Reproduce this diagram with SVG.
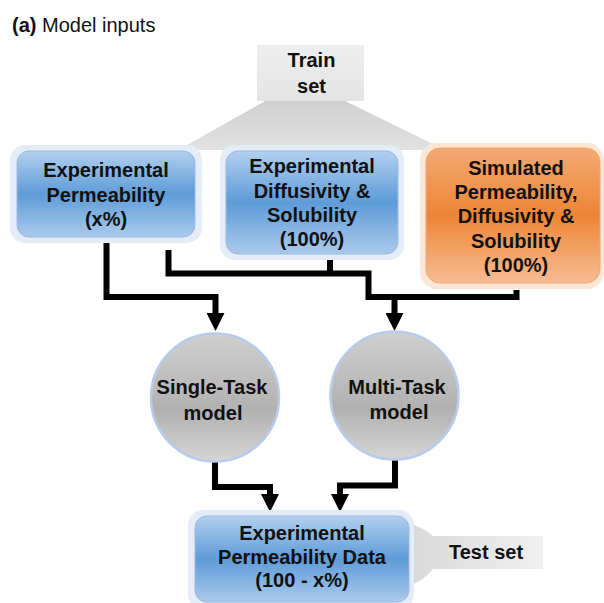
<svg xmlns="http://www.w3.org/2000/svg" width="604" height="603" viewBox="0 0 604 603">
<style>
.t{font-family:"Liberation Sans",Arial,Helvetica,sans-serif;font-size:20px;fill:#111;text-anchor:middle;font-weight:bold}
.title{font-family:"Liberation Sans",Arial,Helvetica,sans-serif;font-size:20px;fill:#111}
.glowB{fill:#e4ecf7}
.glowO{fill:#fce6d6}
.boxB{fill:url(#gB);stroke:#9db8df;stroke-width:1}
.boxO{fill:url(#gO);stroke:#efa878;stroke-width:1}
.circ{fill:url(#gC);stroke:#b9cbea;stroke-width:2.5}
.conn{fill:none;stroke:#000;stroke-width:6;stroke-linejoin:miter}
</style>
<defs>
<linearGradient id="gB" x1="0" y1="0" x2="0" y2="1">
<stop offset="0" stop-color="#b2d0ef"/>
<stop offset="0.5" stop-color="#5e9bd7"/>
<stop offset="1" stop-color="#aacaec"/>
</linearGradient>
<linearGradient id="gO" x1="0" y1="0" x2="0" y2="1">
<stop offset="0" stop-color="#f3aa73"/>
<stop offset="0.5" stop-color="#ee8536"/>
<stop offset="1" stop-color="#f6bd92"/>
</linearGradient>
<linearGradient id="gC" x1="0" y1="0" x2="0" y2="1">
<stop offset="0" stop-color="#d0d0d0"/>
<stop offset="0.6" stop-color="#b1b1b1"/>
<stop offset="1" stop-color="#d6d6d6"/>
</linearGradient>
<linearGradient id="gG" x1="0" y1="0" x2="0" y2="1">
<stop offset="0" stop-color="#eeeeee"/>
<stop offset="1" stop-color="#e4e4e4"/>
</linearGradient>
<linearGradient id="gT" x1="0" y1="0" x2="0" y2="1">
<stop offset="0" stop-color="#cfcfcf"/>
<stop offset="1" stop-color="#e2e2e2"/>
</linearGradient>
<linearGradient id="gS" x1="0" y1="0" x2="1" y2="0">
<stop offset="0" stop-color="#d8d8d8"/>
<stop offset="1" stop-color="#f0f0f0"/>
</linearGradient>
<marker id="arr" markerUnits="userSpaceOnUse" markerWidth="18" markerHeight="18" refX="0" refY="9" orient="auto">
<path d="M0,0 L18,9 L0,18 z" fill="#000"/>
</marker>
</defs>

<text class="title" x="12" y="32"><tspan font-weight="bold">(a)</tspan> Model inputs</text>

<g id="train-set">
<polygon points="267,100 343,100 445,150 178,150" fill="url(#gT)"/>
<rect x="257" y="45" width="107" height="56" fill="url(#gG)"/>
<text class="t" x="311.5" y="67">Train</text>
<text class="t" x="311.5" y="92.5">set</text>
</g>

<g id="exp-perm">
<rect class="glowB" x="10" y="145" width="192" height="98" rx="15"/>
<rect class="boxB" x="17" y="151" width="178" height="86" rx="12"/>
<text class="t" x="106" y="177">Experimental</text>
<text class="t" x="106" y="201.5">Permeability</text>
<text class="t" x="106" y="226">(x%)</text>
</g>

<g id="exp-diff">
<rect class="glowB" x="220" y="145" width="184" height="115" rx="15"/>
<rect class="boxB" x="226" y="151" width="172" height="103" rx="12"/>
<text class="t" x="312" y="173">Experimental</text>
<text class="t" x="312" y="197.5">Diffusivity &amp;</text>
<text class="t" x="312" y="222">Solubility</text>
<text class="t" x="312" y="246">(100%)</text>
</g>

<g id="sim">
<rect class="glowO" x="420" y="143" width="184" height="146" rx="17"/>
<rect class="boxO" x="426" y="148" width="174" height="135" rx="14"/>
<text class="t" x="516" y="175">Simulated</text>
<text class="t" x="516" y="199">Permeability,</text>
<text class="t" x="516" y="223">Diffusivity &amp;</text>
<text class="t" x="516" y="247.5">Solubility</text>
<text class="t" x="516" y="272">(100%)</text>
</g>

<g id="connectors">
<path class="conn" d="M106.5,243 V297 H215.5 V313" marker-end="url(#arr)"/>
<path class="conn" d="M168.5,250 V273.5 H368.5 V297 H516.5 V290"/>
<path class="conn" d="M330,260 V273.5"/>
<path class="conn" d="M394.5,297 V313" marker-end="url(#arr)"/>
<path class="conn" d="M215,461 V487 H270 V494" marker-end="url(#arr)"/>
<path class="conn" d="M395,459 V485.5 H340 V494" marker-end="url(#arr)"/>
</g>

<g id="single-task">
<circle class="circ" cx="215" cy="397.5" r="64"/>
<text class="t" x="212" y="394">Single-Task</text>
<text class="t" x="213" y="420">model</text>
</g>

<g id="multi-task">
<circle class="circ" cx="394.5" cy="395.5" r="64"/>
<text class="t" x="397" y="394">Multi-Task</text>
<text class="t" x="399" y="419">model</text>
</g>

<g id="test-set">
<path d="M405,522 Q425,528 433,536 H543 V569 H433 Q425,580 405,588 z" fill="url(#gS)"/>
<text class="t" x="486" y="559">Test set</text>
</g>

<g id="exp-perm-data">
<rect class="glowB" x="188" y="510" width="226" height="100" rx="15"/>
<rect class="boxB" x="195" y="516" width="214" height="86" rx="12"/>
<text class="t" x="302" y="540">Experimental</text>
<text class="t" x="302" y="563.5">Permeability Data</text>
<text class="t" x="302" y="587">(100 - x%)</text>
</g>
</svg>
